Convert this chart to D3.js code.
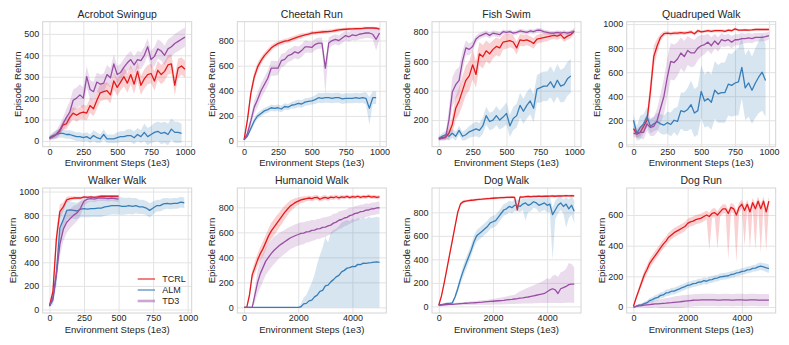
<!DOCTYPE html>
<html>
<head>
<meta charset="utf-8">
<script src="https://cdn.jsdelivr.net/npm/d3@7"></script>
<style>
    body { margin: 0; background: #fff; }
    text { font-family: "Liberation Sans", Arial, sans-serif; fill: #262626; }
</style>
</head>
<body>
<div id="container"></div>
<script>
// methods + colours (matplotlib Set1)
const methods = ["TCRL", "ALM", "TD3"];
const methodColors = ["#e41a1c", "#377eb8", "#984ea3"];

const titles = ["Acrobot Swingup", "Cheetah Run", "Fish Swim", "Quadruped Walk",
    "Walker Walk", "Humanoid Walk", "Dog Walk", "Dog Run"];

// tick labels
const xTicks1k = [0, 250, 500, 750, 1000];
const xTicks5k = [0, 2000, 4000];
const yTicks500 = [0, 100, 200, 300, 400, 500];
const yTicks800 = [0, 200, 400, 600, 800];
const yTicksFish = [200, 400, 600, 800];
const yTicks1000 = [0, 200, 400, 600, 800, 1000];
const yTicks600 = [0, 200, 400, 600];

// sample steps (1e3)
const steps1k = d3.range(0, 1001, 25);
const steps1kAlm = d3.range(0, 976, 25);
const steps500 = d3.range(0, 501, 25);
const steps5k = d3.range(0, 5001, 100);

// band: half width, or [down, up]
const acrobotTCRL = [15,20,30,45,75,80,110,130,120,130, 135,130,165,150,190,225,230,235,215,280, 250,275,300,270,310,265,325,260,290,310, 315,280,330,310,325,355,360,260,340,350,335];
const acrobotTCRLBand = [8,10,12,15,20,25,30,30,30,30, 35,35,35,35,40,40,40,40,40,40, 40,40,45,45,45,45,45,45,45,45, 45,45,45,45,45,45,45,45,45,40,40];
const acrobotALM = [15,25,30,35,35,30,30,25,20,20, 15,20,10,25,15,10,30,10,10,10, 15,20,20,25,25,15,30,20,40,20, 30,40,45,35,40,30,55,40,40,35];
const acrobotALMBand = [10,15,20,20,20,20,20,20,20,20, 20,20,20,25,25,20,25,20,20,20, 25,25,25,30,30,30,30,30,40,40, 40,45,45,50,50,50,50,50,50,45];
const acrobotTD3 = [10,20,30,50,80,110,135,190,200,215, 200,300,240,230,275,265,270,310,295,360, 310,320,345,365,380,355,380,375,400,440, 380,395,430,420,400,430,440,455,465,475,485];
const acrobotTD3Band = [8,15,20,25,30,40,50,50,50,50, 50,50,45,45,45,45,45,45,45,45, 40,40,40,40,40,40,40,40,40,40, 40,45,45,45,45,45,45,45,45,45,45];

const cheetahTCRL = [10,170,380,510,590,640,680,710,740,760, 775,785,795,800,810,820,830,838,845,852, 860,862,865,868,870,872,875,880,885,888, 890,892,893,894,895,897,900,900,900,898,890];
const cheetahTCRLBand = [5,30,40,40,35,30,25,25,25,20, 20,20,20,20,20,20,20,20,15,15, 15,15,15,15,15,15,15,15,15,12, 12,12,12,12,12,12,10,10,10,10,10];
const cheetahALM = [10,40,100,160,200,220,240,250,265,260, 265,255,275,270,285,290,300,295,310,315, 320,330,345,340,345,345,340,345,345,335, 340,340,340,345,340,345,340,260,345,345];
const cheetahALMBand = [5,10,20,25,25,25,25,25,25,25, 25,25,25,25,25,30,30,30,30,30, 30,35,40,40,40,40,40,40,40,40, 40,40,40,40,40,40,50,[130,90],50,50];
const cheetahTD3 = [10,60,160,270,330,400,450,500,580,580, 580,640,650,680,690,710,700,720,750,750, 745,770,780,780,580,780,800,810,800,820, 840,830,845,840,850,855,860,860,850,810,860];
const cheetahTD3Band = [5,30,40,50,60,60,60,60,60,60, 55,55,50,50,50,50,50,50,50,45, 45,45,45,45,[210,20],45,40,40,40,40, 40,40,40,40,40,40,40,40,40,90,50];

const fishTCRL = [75,80,85,110,170,280,330,400,470,500, 575,510,650,630,670,650,680,700,690,730, 735,740,730,690,745,740,745,735,720,750, 755,760,765,770,775,770,780,755,770,780,805];
const fishTCRLBand = [10,15,20,40,60,80,90,100,100,100, 100,90,80,80,70,70,60,60,60,50, 50,45,45,45,40,40,35,35,35,30, 30,30,30,25,25,25,25,25,25,25,20];
const fishALM = [75,90,100,90,110,90,130,90,100,120, 130,140,130,160,230,190,200,230,200,220, 245,160,210,230,300,260,300,330,280,410, 420,430,430,460,420,470,430,440,480,500];
const fishALMBand = [15,20,25,30,30,30,30,30,35,40, 45,50,50,55,60,60,60,65,65,70, 75,75,80,80,85,85,90,90,95,95, 100,100,100,105,105,110,110,115,115,115];
const fishTD3 = [70,75,80,200,390,440,470,600,690,680, 700,750,770,780,790,775,790,785,780,800, 795,800,790,795,805,800,795,805,800,810, 810,800,795,790,790,795,790,795,790,795,800];
const fishTD3Band = [10,15,20,80,100,100,90,70,50,40, 35,25,20,20,20,20,20,20,20,15, 15,15,15,15,15,15,15,15,15,15, 15,15,15,15,15,15,15,15,15,15,15];

const quadTCRL = [130,85,100,150,200,440,730,820,890,920, 925,920,925,925,930,925,930,935,920,945, 935,940,945,940,945,945,945,940,950,945, 960,950,950,952,950,952,955,955,955,955,955];
const quadTCRLBand = [30,30,30,40,60,100,90,60,30,20, 15,15,15,15,15,15,15,15,15,15, 12,12,12,12,12,12,12,12,12,12, 12,10,10,10,10,10,10,10,10,10,10];
const quadALM = [200,90,140,170,230,150,170,190,170,160, 180,165,200,190,280,270,290,330,260,280, 440,360,380,350,450,420,430,430,500,490, 510,520,640,470,510,450,510,560,600,530];
const quadALMBand = [50,60,100,80,80,60,60,70,80,80, 90,100,100,120,150,160,180,200,200,200, 220,220,230,230,240,240,250,250,260,260, 270,280,260,270,280,280,290,300,320,300];
const quadTD3 = [90,90,100,100,170,140,150,200,300,400, 560,690,680,710,760,730,780,760,760,800, 820,830,850,820,860,830,870,860,870,850, 870,870,880,880,885,880,890,890,890,895,905];
const quadTD3Band = [30,40,50,60,60,70,80,100,120,150, 160,150,150,140,130,130,120,120,110,100, 90,80,70,70,60,60,55,50,50,50, 45,45,45,40,40,40,35,35,35,35,30];

const walkerTCRL = [30,150,600,830,870,930,940,945,945,945, 955,950,955,950,955,960,960,960,960,960,960];
const walkerTCRLBand = [10,50,80,60,40,25,20,15,12,12, 10,10,10,10,10,10,10,10,10,10,10];
const walkerALM = [30,80,300,690,760,840,845,840,835,850, 855,850,855,855,860,860,870,875,880,880, 880,875,875,880,875,880,870,870,860,840, 860,880,880,895,900,895,900,900,910,905];
const walkerALMBand = [10,40,100,120,100,80,70,70,70,70, 70,70,70,70,75,75,75,75,75,75, 75,75,70,70,70,65,60,60,60,60, 55,50,50,50,45,45,45,45,45,45];
const walkerTD3 = [30,100,300,550,680,740,770,800,820,860, 920,935,940,935,945,945,945,940,945,940,935];
const walkerTD3Band = [10,40,80,100,100,90,80,80,70,60, 40,30,25,25,25,25,25,25,25,25,25];

const humanoidTCRL = [0,0,100,260,320,380,430,470,520,570, 610,640,670,700,730,760,785,810,825,840, 850,860,865,870,875,870,878,880,865,875, 880,872,882,878,885,876,884,880,888,878, 886,882,889,880,887,884,890,882,886,880,884];
const humanoidTCRLBand = [0,0,30,40,50,50,55,60,60,60, 65,65,65,60,60,55,50,45,40,35, 30,25,25,20,20,20,20,20,20,20, 20,18,18,18,18,18,15,15,15,15, 15,15,15,15,15,15,15,15,15,15,15];
const humanoidALM = [0,0,0,0,0,0,0,0,0,0, 0,0,0,0,0,0,0,0,0,0, 0,5,28,32,52,58,84,98,128,136, 172,178,204,222,244,256,284,296,314,318, 328,326,344,342,354,352,356,358,362,364,360];
const humanoidALMLo = [0,0,0,0,0,0,0,0,0,0, 0,0,0,0,0,0,0,0,0,0, 0,0,0,0,0,0,0,0,0,0, 0,0,0,0,0,0,0,0,0,0, 0,0,0,0,0,0,0,0,0,0,0];
const humanoidALMHi = [0,0,0,0,0,0,0,0,0,0, 0,0,0,0,0,0,0,0,0,0, 0,30,80,100,150,200,260,350,420,480, 560,520,600,620,630,650,680,690,700,690, 710,700,715,705,720,710,725,715,720,725,720];
const humanoidTD3 = [0,0,0,0,100,200,270,320,370,400, 430,455,475,495,510,525,540,555,565,575, 583,592,594,604,606,616,618,628,630,640, 642,652,658,674,682,697,703,715,720,734, 740,752,755,766,768,778,779,788,789,796,797];
const humanoidTD3Band = [0,0,0,0,60,90,110,110,110,110, 110,110,105,100,100,95,95,90,90,90, 90,90,88,85,85,85,80,80,80,80, 80,75,75,75,70,70,70,65,65,65, 60,60,60,55,55,55,50,50,50,50,50];

const dogWalkTCRL = [10,90,200,320,440,560,680,800,870,890, 895,900,903,905,908,910,912,915,917,918, 920,922,923,925,926,927,928,930,928,820, 932,930,933,935,934,936,935,937,936,938, 937,938,939,937,940,939,940,941,940,942,940];
const dogWalkTCRLBand = [5,10,15,20,20,20,20,20,15,12, 10,10,10,10,10,10,10,10,10,10, 10,10,10,10,10,10,10,10,10,10, 10,10,10,10,10,10,10,10,10,10, 10,10,10,10,10,10,10,10,10,10,10];
const dogWalkALM = [10,15,20,25,25,30,80,150,230,300, 360,420,480,550,600,620,640,660,680,710, 720,730,760,790,820,830,850,840,860,860, 850,870,880,860,870,890,880,860,870,880, 860,870,780,820,860,880,850,870,830,860,810];
const dogWalkALMBand = [5,5,5,5,5,10,20,30,40,50, 50,50,50,50,50,50,50,50,50,50, 50,50,50,50,50,50,50,50,50,50, 50,50,[150,40],60,60,50,50,60,60,60, 60,70,[380,60],80,70,60,60,[200,60],80,80,[100,90]];
const dogWalkTD3 = [10,12,14,15,17,18,20,22,24,25, 27,28,30,31,33,35,36,38,40,42, 44,46,48,50,52,55,58,60,63,66, 70,73,77,80,85,90,95,100,105,110, 125,140,150,140,110,150,160,170,185,190,190];
const dogWalkTD3Lo = [0,2,4,5,7,8,10,10,10,10, 12,12,12,12,14,14,14,15,15,15, 16,16,17,17,18,18,20,20,20,22, 22,24,24,25,25,26,26,28,28,28, 30,30,30,30,30,30,30,32,32,32,32];
const dogWalkTD3Hi = [20,22,24,26,28,30,32,34,36,38, 40,42,44,46,48,50,52,54,56,60, 64,68,72,76,80,85,90,95,100,115, 130,140,150,160,170,180,190,200,210,225, 240,230,260,270,250,290,300,320,370,360,330];

const dogRunTCRL = [5,60,110,160,210,245,285,310,335,360, 385,410,430,455,470,485,495,505,515,525, 545,555,560,570,575,580,590,600,590,610, 615,600,620,640,640,610,650,640,600,650, 670,630,670,620,680,640,690,640,690,620,690];
const dogRunTCRLBand = [5,15,20,25,30,30,30,30,30,30, 30,30,30,30,30,30,30,30,30,30, 30,30,30,30,30,30,30,30,[220,25],30, 30,[220,25],30,30,30,[300,25],30,30,[310,30],30, 30,[230,30],30,[240,30],30,[270,30],30,[290,30],30,[260,30],30];
const dogRunALM = [0,5,12,14,22,28,42,48,58,63, 76,79,92,94,103,104,112,118,127,133, 142,144,152,154,162,163,172,168,177,179, 187,189,197,199,202,204,212,214,222,224, 232,234,242,244,252,254,262,266,261,256,250];
const dogRunALMBand = [3,5,8,10,12,14,16,18,18,20, 20,20,22,22,22,22,22,22,22,22, 22,22,22,22,22,22,22,22,22,22, 22,22,22,22,22,22,22,22,22,22, 22,22,22,22,22,22,25,25,25,28,28];
const dogRunTD3 = [0,5,8,10,12,14,16,18,20,20, 22,24,25,27,28,30,32,34,36,38, 40,42,44,45,45,46,46,46,46,46, 46,45,45,46,46,46,45,45,46,46, 46,45,45,46,46,46,45,45,45,45,45];
const dogRunTD3Band = [3,8,10,12,15,18,20,22,22,25, 28,30,32,34,36,38,40,40,40,40, 40,40,40,40,40,40,40,40,40,40, 40,40,40,40,40,40,40,40,40,40, 40,40,40,40,40,40,40,40,40,40,40];

// panel setup
const WIDTH = 789;
const HEIGHT = 345;
const PLOT_W = 149;
const PLOT_H = 125;
const COL_X = [42.7, 237.3, 432, 626.7];
const ROW_Y = [21.7, 188];

const panels = [
    { xDomain: [-50, 1050], yDomain: [-27, 557], xTicks: xTicks1k, yTicks: yTicks500, series: [
        { m: 0, x: steps1k, mean: acrobotTCRL, band: acrobotTCRLBand },
        { m: 1, x: steps1kAlm, mean: acrobotALM, band: acrobotALMBand },
        { m: 2, x: steps1k, mean: acrobotTD3, band: acrobotTD3Band }] },
    { xDomain: [-50, 1050], yDomain: [-45, 950], xTicks: xTicks1k, yTicks: yTicks800, series: [
        { m: 0, x: steps1k, mean: cheetahTCRL, band: cheetahTCRLBand },
        { m: 1, x: steps1kAlm, mean: cheetahALM, band: cheetahALMBand },
        { m: 2, x: steps1k, mean: cheetahTD3, band: cheetahTD3Band }] },
    { xDomain: [-50, 1050], yDomain: [19, 868], xTicks: xTicks1k, yTicks: yTicksFish, series: [
        { m: 0, x: steps1k, mean: fishTCRL, band: fishTCRLBand },
        { m: 1, x: steps1kAlm, mean: fishALM, band: fishALMBand },
        { m: 2, x: steps1k, mean: fishTD3, band: fishTD3Band }] },
    { xDomain: [-50, 1050], yDomain: [-20, 1020], xTicks: xTicks1k, yTicks: yTicks1000, series: [
        { m: 0, x: steps1k, mean: quadTCRL, band: quadTCRLBand },
        { m: 1, x: steps1kAlm, mean: quadALM, band: quadALMBand },
        { m: 2, x: steps1k, mean: quadTD3, band: quadTD3Band }] },
    { xDomain: [-49, 1029], yDomain: [-30, 1030], xTicks: xTicks1k, yTicks: yTicks1000, legend: true, series: [
        { m: 0, x: steps500, mean: walkerTCRL, band: walkerTCRLBand },
        { m: 1, x: steps1kAlm, mean: walkerALM, band: walkerALMBand },
        { m: 2, x: steps500, mean: walkerTD3, band: walkerTD3Band }] },
    { xDomain: [-250, 5250], yDomain: [-45, 955], xTicks: xTicks5k, yTicks: yTicks800, series: [
        { m: 0, x: steps5k, mean: humanoidTCRL, band: humanoidTCRLBand },
        { m: 1, x: steps5k, mean: humanoidALM, lo: humanoidALMLo, hi: humanoidALMHi },
        { m: 2, x: steps5k, mean: humanoidTD3, band: humanoidTD3Band }] },
    { xDomain: [-250, 5250], yDomain: [-56, 1007], xTicks: xTicks5k, yTicks: yTicks800, series: [
        { m: 0, x: steps5k, mean: dogWalkTCRL, band: dogWalkTCRLBand },
        { m: 1, x: steps5k, mean: dogWalkALM, band: dogWalkALMBand },
        { m: 2, x: steps5k, mean: dogWalkTD3, lo: dogWalkTD3Lo, hi: dogWalkTD3Hi }] },
    { xDomain: [-250, 5250], yDomain: [-39, 776], xTicks: xTicks5k, yTicks: yTicks600, series: [
        { m: 0, x: steps5k, mean: dogRunTCRL, band: dogRunTCRLBand },
        { m: 1, x: steps5k, mean: dogRunALM, band: dogRunALMBand },
        { m: 2, x: steps5k, mean: dogRunTD3, band: dogRunTD3Band }] }
];

const svg = d3.select("#container")
    .append("svg")
    .attr("width", WIDTH)
    .attr("height", HEIGHT);

// turn a series into rows with lo / hi
const toRows = (s) => s.x.map((step, i) => {
    let lo, hi;
    if (s.band) {
        const b = s.band[i];
        const down = Array.isArray(b) ? b[0] : b;
        const up = Array.isArray(b) ? b[1] : b;
        lo = s.mean[i] - down;
        hi = s.mean[i] + up;
    } else {
        lo = s.lo[i];
        hi = s.hi[i];
    }
    return { step, m: s.mean[i], lo, hi };
});

panels.forEach((p, idx) => {
    const left = COL_X[idx % 4];
    const top = ROW_Y[Math.floor(idx / 4)];

    const x = d3.scaleLinear().domain(p.xDomain).range([0, PLOT_W]);
    const y = d3.scaleLinear().domain(p.yDomain).range([PLOT_H, 0]);

    const g = svg.append("g").attr("transform", `translate(${left},${top})`);

    // grid + tick labels
    const xAxis = g.append("g")
        .attr("transform", `translate(0,${PLOT_H})`)
        .call(d3.axisBottom(x).tickValues(p.xTicks).tickFormat(d3.format("d"))
            .tickSize(-PLOT_H).tickPadding(2));
    const yAxis = g.append("g")
        .call(d3.axisLeft(y).tickValues(p.yTicks).tickFormat(d3.format("d"))
            .tickSize(-PLOT_W).tickPadding(3.5));
    [xAxis, yAxis].forEach(a => {
        a.select(".domain").remove();
        a.selectAll(".tick line").attr("stroke", "#e3e3e3").attr("stroke-width", 1);
        a.selectAll(".tick text").attr("font-size", 9).attr("fill", "#262626")
            .style("font-family", "'Liberation Sans', Arial, sans-serif");
    });

    // frame
    g.append("rect")
        .attr("width", PLOT_W).attr("height", PLOT_H)
        .attr("fill", "none").attr("stroke", "#d4d4d4").attr("stroke-width", 1);

    // clip
    const clipId = "clip" + idx;
    g.append("clipPath").attr("id", clipId)
        .append("rect").attr("width", PLOT_W).attr("height", PLOT_H);
    const plot = g.append("g").attr("clip-path", `url(#${clipId})`);

    const area = d3.area().x(d => x(d.step)).y0(d => y(d.lo)).y1(d => y(d.hi));
    const line = d3.line().x(d => x(d.step)).y(d => y(d.m));

    p.series.forEach(s => {
        const rows = toRows(s);
        plot.append("path").datum(rows)
            .attr("d", area)
            .attr("fill", methodColors[s.m])
            .attr("fill-opacity", 0.2)
            .attr("stroke", "none");
        plot.append("path").datum(rows)
            .attr("d", line)
            .attr("fill", "none")
            .attr("stroke", methodColors[s.m])
            .attr("stroke-width", 1.3)
            .attr("stroke-linejoin", "round");
    });

    // title
    g.append("text")
        .attr("x", PLOT_W / 2).attr("y", -4)
        .attr("text-anchor", "middle")
        .attr("font-size", 10.5)
        .text(titles[idx]);

    // axis labels
    g.append("text")
        .attr("x", PLOT_W / 2).attr("y", PLOT_H + 19.5)
        .attr("text-anchor", "middle")
        .attr("font-size", 9.5)
        .text("Environment Steps (1e3)");

    let maxW = 0;
    yAxis.selectAll(".tick text").each(function () {
        maxW = Math.max(maxW, this.getComputedTextLength());
    });
    const labelX = -3.5 - maxW - 3.5;
    g.append("text")
        .attr("transform", `translate(${labelX},${PLOT_H / 2}) rotate(-90)`)
        .attr("text-anchor", "middle")
        .attr("font-size", 9.5)
        .text("Episode Return");

    // legend
    if (p.legend) {
        const lg = g.append("g").attr("transform", "translate(95,91)");
        methods.forEach((name, i) => {
            lg.append("line")
                .attr("x1", 0).attr("x2", 17.3)
                .attr("y1", i * 11).attr("y2", i * 11)
                .attr("stroke", methodColors[i])
                .attr("stroke-opacity", i === 2 ? 0.5 : 0.85)
                .attr("stroke-width", i === 2 ? 2.6 : 1.3);
            lg.append("text")
                .attr("x", 24.6).attr("y", i * 11)
                .attr("dy", "0.35em")
                .attr("font-size", 9)
                .text(name);
        });
    }
});
</script>
</body>
</html>
